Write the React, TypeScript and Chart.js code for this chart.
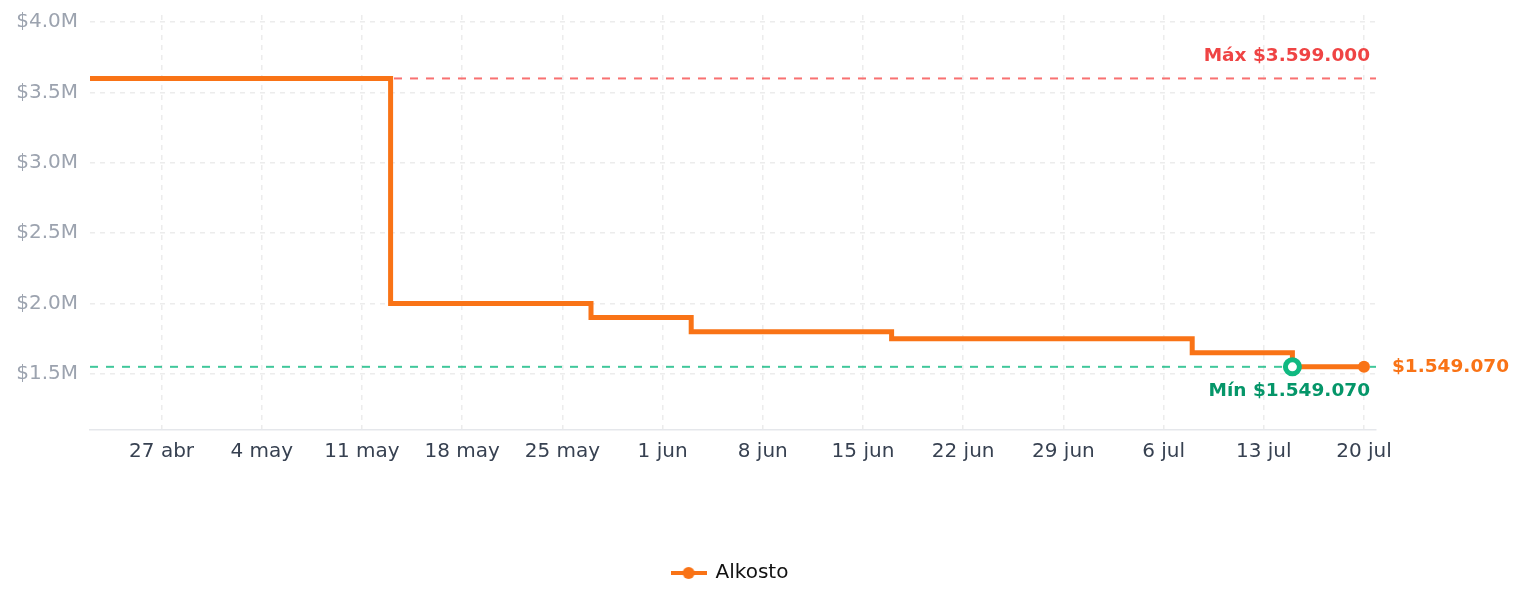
import React, { useEffect, useRef } from "react";
import { Chart, registerables } from "chart.js";

Chart.register(...registerables);

// Days counted from 27 abr (day 0)
const stepDays = [-5, 16, 30, 37, 51, 72, 79, 84];
const prices = [3599000, 1999000, 1899000, 1799000, 1749000, 1649000, 1549070, 1549070];
const tickDays = [0, 7, 14, 21, 28, 35, 42, 49, 56, 63, 70, 77, 84];
const tickLabels = ["27 abr", "4 may", "11 may", "18 may", "25 may", "1 jun", "8 jun", "15 jun", "22 jun", "29 jun", "6 jul", "13 jul", "20 jul"];
const yTicks = [1500000, 2000000, 2500000, 3000000, 3500000, 4000000];
const maxPrice = 3599000;
const minPrice = 1549070;
const minIndex = 6;
const seriesName = "Alkosto";

const ORANGE = "#f97316";
const FONT = "'DejaVu Sans', sans-serif";

const fmt = (v: number) => "$" + Math.round(v).toString().replace(/\B(?=(\d{3})+(?!\d))/g, ".");

const refPlugin = {
  id: "refLines",
  afterLayout(chart: any) {
    const lg = chart.legend;
    if (lg) {
      lg.left += 38;
      lg.right += 38;
    }
  },
  beforeDatasetsDraw(chart: any) {
    const { ctx, chartArea, scales } = chart;
    const y = scales.y;
    ctx.save();
    ctx.lineWidth = 2;
    ctx.setLineDash([8, 8]);
    const yMax = y.getPixelForValue(maxPrice);
    ctx.strokeStyle = "#f87171";
    ctx.beginPath();
    ctx.moveTo(chartArea.left, yMax);
    ctx.lineTo(chartArea.right, yMax);
    ctx.stroke();
    const yMin = y.getPixelForValue(minPrice);
    ctx.strokeStyle = "rgba(16,185,129,0.8)";
    ctx.beginPath();
    ctx.moveTo(chartArea.left, yMin);
    ctx.lineTo(chartArea.right, yMin);
    ctx.stroke();
    ctx.restore();
  },
  afterDraw(chart: any) {
    const { ctx, chartArea, scales } = chart;
    const x = scales.x;
    const y = scales.y;
    ctx.save();
    ctx.font = `bold 18.5px ${FONT}`;
    ctx.textBaseline = "middle";
    ctx.textAlign = "right";
    const yMax = y.getPixelForValue(maxPrice);
    ctx.fillStyle = "#ef4444";
    ctx.fillText("Máx " + fmt(maxPrice), chartArea.right - 6, yMax - 22);
    const yMin = y.getPixelForValue(minPrice);
    ctx.fillStyle = "#059669";
    ctx.fillText("Mín " + fmt(minPrice), chartArea.right - 6, yMin + 24);
    const last = prices.length - 1;
    ctx.textAlign = "left";
    ctx.fillStyle = ORANGE;
    ctx.fillText(fmt(prices[last]), x.getPixelForValue(stepDays[last]) + 28, y.getPixelForValue(prices[last]));
    ctx.restore();
  },
};

export default function App() {
  const ref = useRef<HTMLCanvasElement>(null);
  useEffect(() => {
    if (!ref.current) return;
    const icon = document.createElement("canvas");
    icon.width = 36;
    icon.height = 14;
    const ic = icon.getContext("2d")!;
    ic.strokeStyle = ORANGE;
    ic.lineWidth = 4;
    ic.beginPath();
    ic.moveTo(0, 7);
    ic.lineTo(36, 7);
    ic.stroke();
    ic.fillStyle = ORANGE;
    ic.beginPath();
    ic.arc(18, 7, 6, 0, Math.PI * 2);
    ic.fill();

    const chart = new Chart(ref.current, {
      type: "line",
      data: {
        datasets: [
          {
            label: seriesName,
            data: stepDays.map((d, i) => ({ x: d, y: prices[i] })),
            borderColor: ORANGE,
            backgroundColor: ORANGE,
            borderWidth: 5,
            stepped: true,
            fill: false,
            pointRadius: (c: any) => (c.dataIndex === minIndex ? 7 : c.dataIndex === prices.length - 1 ? 6 : 0),
            pointBackgroundColor: (c: any) => (c.dataIndex === minIndex ? "#ffffff" : ORANGE),
            pointBorderColor: (c: any) => (c.dataIndex === minIndex ? "#10b981" : ORANGE),
            pointBorderWidth: (c: any) => (c.dataIndex === minIndex ? 5 : 0),
          } as any,
        ],
      },
      options: {
        animation: false,
        responsive: true,
        maintainAspectRatio: false,
        events: [],
        layout: { padding: { left: 0, right: 140, top: 0, bottom: 6 } },
        scales: {
          x: {
            type: "linear",
            min: -5,
            max: 84.84,
            afterBuildTicks: (s: any) => {
              s.ticks = tickDays.map((v) => ({ value: v }));
            },
            afterFit: (s: any) => {
              s.height += 79;
            },
            ticks: {
              autoSkip: false,
              maxRotation: 0,
              padding: 10,
              color: "#374151",
              font: { family: FONT, size: 20 },
              callback: (v: any) => {
                const i = tickDays.indexOf(Number(v));
                return i >= 0 ? tickLabels[i] : "";
              },
            },
            grid: { color: "#ececec", lineWidth: 1.5, drawTicks: false },
            border: { display: true, color: "#e5e7eb", width: 1.5, dash: [5, 5] } as any,
          },
          y: {
            type: "linear",
            min: 1100000,
            max: 4050000,
            afterBuildTicks: (s: any) => {
              s.ticks = yTicks.map((v) => ({ value: v }));
            },
            afterFit: (s: any) => {
              s.paddingTop = 7;
              s.width = 82;
            },
            ticks: {
              padding: 12,
              color: "#9ca3af",
              font: { family: FONT, size: 20 },
              callback: (v: any) => "$" + (Number(v) / 1e6).toFixed(1) + "M",
            },
            grid: { color: "#ececec", lineWidth: 1.5, drawTicks: false },
            border: { display: false, dash: [5, 5] } as any,
          },
        },
        plugins: {
          legend: {
            position: "bottom",
            labels: {
              usePointStyle: true,
              pointStyle: icon as any,
              pointStyleWidth: 34,
              color: "#111111",
              font: { family: FONT, size: 20 },
              padding: 10,
            },
          },
          tooltip: { enabled: false },
        },
      },
      plugins: [refPlugin],
    });
    return () => chart.destroy();
  }, []);
  return (
    <div style={{ width: "100%", height: 591, position: "relative" }}>
      <canvas ref={ref} />
    </div>
  );
}
